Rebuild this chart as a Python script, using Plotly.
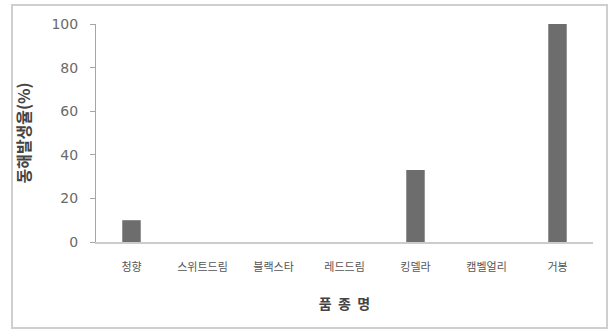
import plotly.graph_objects as go

categories = ["청향", "스위트드림", "블랙스타", "레드드림", "킹델라", "캠벨얼리", "거봉"]
values = [10, 0, 0, 0, 33, 0, 100]
y_ticks = [0, 20, 40, 60, 80, 100]

fig = go.Figure(go.Bar(x=categories, y=values, marker_color="#6d6d6d",
                       marker_line_width=0, width=0.26))

W, H = 612, 332
L, R, T, B = 96, 19, 24, 90
pw, ph = W - L - R, H - T - B

def px_x(p):
    return (p - L) / pw

def px_y(p):
    return (H - B - p) / ph

fig.add_shape(type="rect", xref="paper", yref="paper",
              x0=px_x(12), x1=px_x(607), y0=px_y(328), y1=px_y(5),
              line=dict(color="#cfcfcf", width=2), fillcolor="rgba(0,0,0,0)")

fig.update_layout(
    width=W, height=H,
    margin=dict(l=L, r=R, t=T, b=B),
    paper_bgcolor="white", plot_bgcolor="white",
    showlegend=False,
    font=dict(family="Noto Sans CJK KR, DejaVu Sans", color="#555555"),
    xaxis=dict(
        showline=True, linecolor="#cccccc", linewidth=2,
        ticks="", showgrid=False,
        tickfont=dict(size=11, color="#555555"),
        ticklabelstandoff=14,
        title=dict(text="<b>품  종  명</b>", font=dict(size=14, color="#444444"), standoff=26),
    ),
    yaxis=dict(
        range=[0, 100], tickvals=y_ticks, showgrid=False, zeroline=False,
        showline=True, linecolor="#a6a6a6", linewidth=1,
        ticks="outside", ticklen=5, tickcolor="#a6a6a6",
        tickfont=dict(family="DejaVu Sans", size=14, color="#6a6a6a"),
        ticklabelstandoff=9,
        title=dict(text="<b>동해발생율(%)</b>", font=dict(size=16, color="#444444"), standoff=16),
    ),
)

fig.write_html("out.html")
